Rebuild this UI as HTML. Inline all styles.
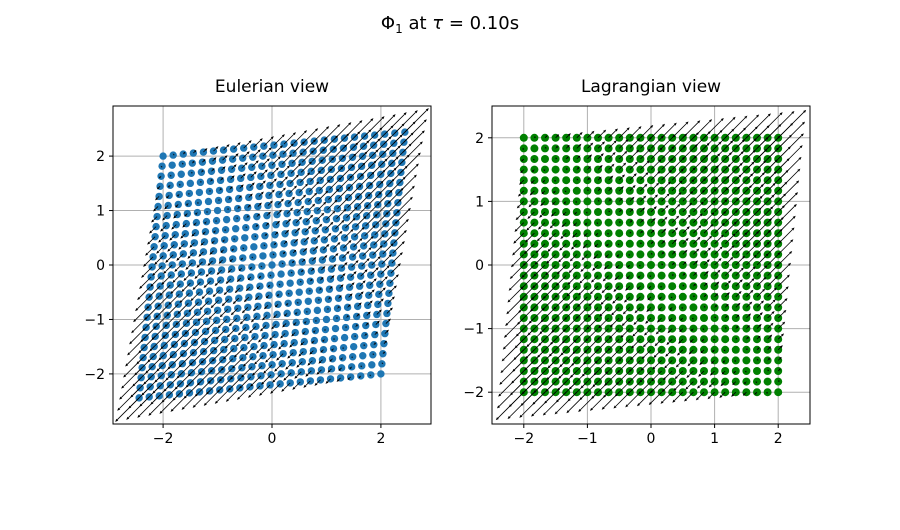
<!DOCTYPE html>
<html><head><meta charset="utf-8"><style>
body{margin:0;background:#fff;font-family:"Liberation Sans","DejaVu Sans",sans-serif;}
</style></head><body>
<svg id="chart" width="900" height="525" xmlns="http://www.w3.org/2000/svg" font-family="'DejaVu Sans','Liberation Sans',sans-serif">
<rect width="900" height="525" fill="#fff"/>
<text x="450" y="29" text-anchor="middle" font-size="18">Φ<tspan font-size="12" dy="4">1</tspan><tspan dy="-4"> at </tspan><tspan font-style="italic">τ</tspan> = 0.10s</text>
</svg>
<script>
const gridVals=[];for(let i=0;i<25;i++)gridVals.push(-2+i*4/24);
const shear=0.11;
const arrowScale=0.11;
const leftTicks=[-2,0,2];
const leftYTicks=[-2,-1,0,1,2];
const rightTicks=[-2,-1,0,1,2];
const rightYTicks=[-2,-1,0,1,2];
const NS="http://www.w3.org/2000/svg";
const svg=document.getElementById('chart');
function mk(t,a,p){const e=document.createElementNS(NS,t);for(const k in a)e.setAttribute(k,a[k]);(p||svg).appendChild(e);return e;}
function panel(cfg){
 const g=mk('g',{});
 
 
 const X=v=>cfg.x0+(v-cfg.xmin)/(cfg.xmax-cfg.xmin)*(cfg.x1-cfg.x0);
 const Y=v=>cfg.y1-(v-cfg.ymin)/(cfg.ymax-cfg.ymin)*(cfg.y1-cfg.y0);
 mk('defs',{},g).innerHTML=`<clipPath id="c${cfg.id}"><rect x="${cfg.x0}" y="${cfg.y0}" width="${cfg.x1-cfg.x0}" height="${cfg.y1-cfg.y0}"/></clipPath>`;
 const grid=mk('g',{stroke:'#b0b0b0','stroke-width':1},g);
 
 cfg.xt.forEach(t=>mk('line',{x1:X(t),x2:X(t),y1:cfg.y0,y2:cfg.y1},grid));
 cfg.yt.forEach(t=>mk('line',{y1:Y(t),y2:Y(t),x1:cfg.x0,x2:cfg.x1},grid));
 const data=mk('g',{'clip-path':`url(#c${cfg.id})`},g);
 const dots=mk('g',{fill:cfg.color},data);
 
 const arr=mk('g',{stroke:'#000','stroke-width':0.8,fill:'#000'},data);
 
 gridVals.forEach(a=>gridVals.forEach(b=>{
  let px=a,py=b;
  if(cfg.euler){px=a+shear*(a+b);py=b+shear*(a+b);}
  mk('circle',{cx:X(px),cy:Y(py),r:cfg.r},dots);
  const v=arrowScale*(a+b);
  const sx=X(px),sy=Y(py),ex=X(px+v),ey=Y(py+v);
  const dx=ex-sx,dy=ey-sy,L=Math.hypot(dx,dy);
  if(L<0.5)return;
  const ux=dx/L,uy=dy/L,h=Math.min(3,L*0.5);
  mk('line',{x1:sx,y1:sy,x2:ex-ux*h,y2:ey-uy*h},arr);
  mk('polygon',{points:`${ex},${ey} ${ex-ux*h-uy*1.3},${ey-uy*h+ux*1.3} ${ex-ux*h+uy*1.3},${ey-uy*h-ux*1.3}`,stroke:'none'},arr);
 }));
 const fr=mk('rect',{x:cfg.x0,y:cfg.y0,width:cfg.x1-cfg.x0,height:cfg.y1-cfg.y0,fill:'none',stroke:'#000','stroke-width':1},g);
 
 cfg.xt.forEach(t=>{mk('line',{x1:X(t),x2:X(t),y1:cfg.y1,y2:cfg.y1+4,stroke:'#000'},g);
  const tx=mk('text',{x:X(t),y:cfg.y1+19,'text-anchor':'middle','font-size':14},g);tx.textContent=(t<0?'−':'')+Math.abs(t);
  });
 cfg.yt.forEach(t=>{mk('line',{x1:cfg.x0-4,x2:cfg.x0,y1:Y(t),y2:Y(t),stroke:'#000'},g);
  const tx=mk('text',{x:cfg.x0-8,y:Y(t)+5,'text-anchor':'end','font-size':14},g);tx.textContent=(t<0?'−':'')+Math.abs(t);
  });
 const ti=mk('text',{x:(cfg.x0+cfg.x1)/2,y:cfg.y0-14,'text-anchor':'middle','font-size':17},g);ti.textContent=cfg.title;
 
}
panel({id:1,name:'eulerian-panel',title:'Eulerian view',euler:true,color:'#1f77b4',r:3.7,x0:113,x1:431,y0:106,y1:424,xmin:-2.92,xmax:2.92,ymin:-2.92,ymax:2.92,xt:leftTicks,yt:leftYTicks});
panel({id:2,name:'lagrangian-panel',title:'Lagrangian view',euler:false,color:'#008000',r:4,x0:492,x1:810,y0:106,y1:424,xmin:-2.5,xmax:2.5,ymin:-2.5,ymax:2.5,xt:rightTicks,yt:rightYTicks});
</script>
</body></html>
